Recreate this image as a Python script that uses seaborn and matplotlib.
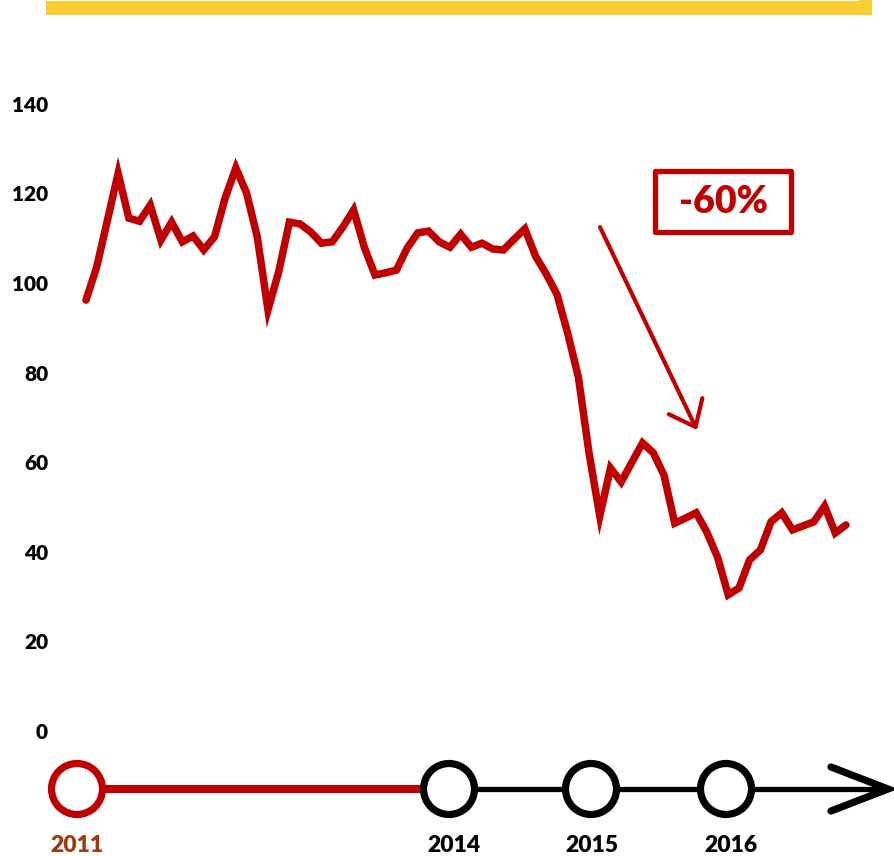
import matplotlib
matplotlib.use("Agg")
import matplotlib.pyplot as plt
from matplotlib.patches import Circle, Rectangle
import pandas as pd
import seaborn as sns

# Monthly index values
price = [96.2, 103.6, 114.0, 124.5, 114.5, 113.8, 117.4, 109.6, 113.6, 109.2,
         110.5, 107.4, 110.3, 119.0, 125.7, 120.1, 110.3, 94.0, 102.5, 113.6,
         113.2, 111.4, 108.9, 109.2, 112.5, 116.3, 108.0, 101.8, 102.3, 102.9,
         107.8, 111.2, 111.6, 109.2, 108.0, 110.9, 108.0, 108.9, 107.6, 107.4,
         109.8, 112.1, 106.0, 102.0, 97.5, 88.8, 79.0, 62.0, 48.0, 58.7,
         55.6, 60.0, 64.3, 62.1, 57.1, 46.4, 47.5, 48.7, 44.4, 38.8,
         30.4, 31.9, 38.2, 40.4, 46.7, 48.7, 44.9, 45.8, 46.7, 50.2,
         44.2, 46.0]
month = list(range(len(price)))
y_ticks = [0, 20, 40, 60, 80, 100, 120, 140]
timeline_years = ["2011", "2014", "2015", "2016"]
change_label = "-60%"

RED = "#C00000"
YELLOW = "#FBCD33"
BROWN = "#9E3C10"

sns.set_style("white")
plt.rcParams["font.family"] = ["Lato", "DejaVu Sans"]

W, H = 895, 856
fig = plt.figure(figsize=(W / 100, H / 100), dpi=100)

# main chart axes
ax = fig.add_axes([62 / W, 0, 818 / W, (H - 60) / H])
df = pd.DataFrame({"month": month, "price": price})
sns.lineplot(data=df, x="month", y="price", ax=ax, color=RED, lw=5.4,
             solid_joinstyle="miter", solid_capstyle="round")
ax.set_xlim(-2.242, 74.18)
ax.set_ylim(-27.91, 149.8)
ax.set_yticks(y_ticks)
ax.set_yticklabels([str(t) for t in y_ticks], fontsize=15, fontweight="heavy",
                   color="black")
ax.tick_params(axis="y", length=0, pad=10)
ax.set_xticks([])
ax.set_xlabel("")
ax.set_ylabel("")
for s in ax.spines.values():
    s.set_visible(False)
ax.patch.set_alpha(0)

# drop arrow and percentage box
ax.annotate("", xy=(57.08, 67.2), xytext=(48.02, 112.5),
            arrowprops=dict(arrowstyle="->,head_length=0.83,head_width=0.67",
                            color=RED, lw=3.0, shrinkA=0, shrinkB=0,
                            mutation_scale=20))
ax.add_patch(Rectangle((53.2, 111.3), 12.7, 13.8, fill=False, ec=RED,
                       lw=3.8, joinstyle="round"))
ax.text(59.6, 118.2, change_label, color=RED, fontsize=27, fontweight="heavy",
        ha="center", va="center")

# overlay in pixel units for the banner and timeline
ov = fig.add_axes([0, 0, 1, 1])
ov.set_xlim(0, W)
ov.set_ylim(H, 0)
ov.axis("off")
ov.patch.set_alpha(0)

ov.add_patch(Rectangle((46, 1), 826, 14, color=YELLOW, lw=0))
ov.add_patch(Rectangle((859, 0), 13, 3, color=YELLOW, lw=0))

ty = 789
year_x = [77, 449, 591, 726]
label_x = [77, 454, 592, 731]
ov.plot([104, 420], [ty, ty], color=RED, lw=5.8, solid_capstyle="butt")
ov.plot([476, 886], [ty, ty], color="black", lw=3.8, solid_capstyle="butt")
ov.plot([831, 888, 831], [767, ty, 811], color="black", lw=5.2,
        solid_joinstyle="miter")
for i, (x, lx, yr) in enumerate(zip(year_x, label_x, timeline_years)):
    col = RED if i == 0 else "black"
    ov.add_patch(Circle((x, ty), 25.5, fc="white", ec=col, lw=5.2, zorder=3))
    ov.text(lx, 846, yr, ha="center", va="center", fontsize=16.5,
            fontweight="heavy", color=BROWN if i == 0 else "black")

fig.savefig("out.png", dpi=100)
